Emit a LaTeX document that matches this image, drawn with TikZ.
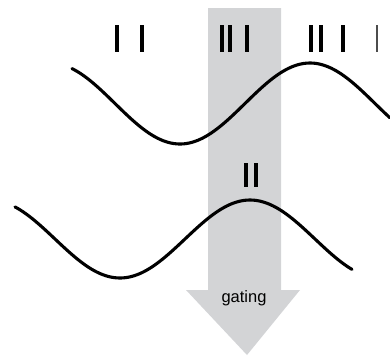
\documentclass[tikz,border=0pt]{standalone}
\usepackage{fontspec}
\setmainfont{Liberation Sans}
\definecolor{gatinggray}{HTML}{D3D4D6}

\begin{document}
\begin{tikzpicture}[x=1pt, y=-1pt, spike/.style={line width=3.4pt}, wave/.style={line width=3.1pt, line cap=round}]
    \useasboundingbox (0, 0) rectangle (390, 359);
    \fill[gatinggray] (208, 8) -- (281, 8) -- (281, 290) -- (300, 290) -- (247, 355) -- (186, 290) -- (208, 290) -- cycle;
    \node (g) at (244, 298) {\fontsize{16.5}{18}\selectfont gating};
    \draw[wave] plot[domain=72:390, samples=120, smooth] (\x, {103.5 - 40.5*cos((\x-50)*1.3846)});
    \draw[wave] plot[domain=15:352, samples=120, smooth] (\x, {239 - 39*cos((\x-250)*1.3846)});
    \foreach \s in {117, 142, 222, 230, 247, 311, 321, 343}
        \draw[spike] (\s, 25) -- (\s, 52);
    \draw[spike, line width=2.4pt, black!70] (377, 25) -- (377, 52);
    \foreach \s in {246, 256}
        \draw[spike] (\s, 163) -- (\s, 187);
\end{tikzpicture}
\end{document}
